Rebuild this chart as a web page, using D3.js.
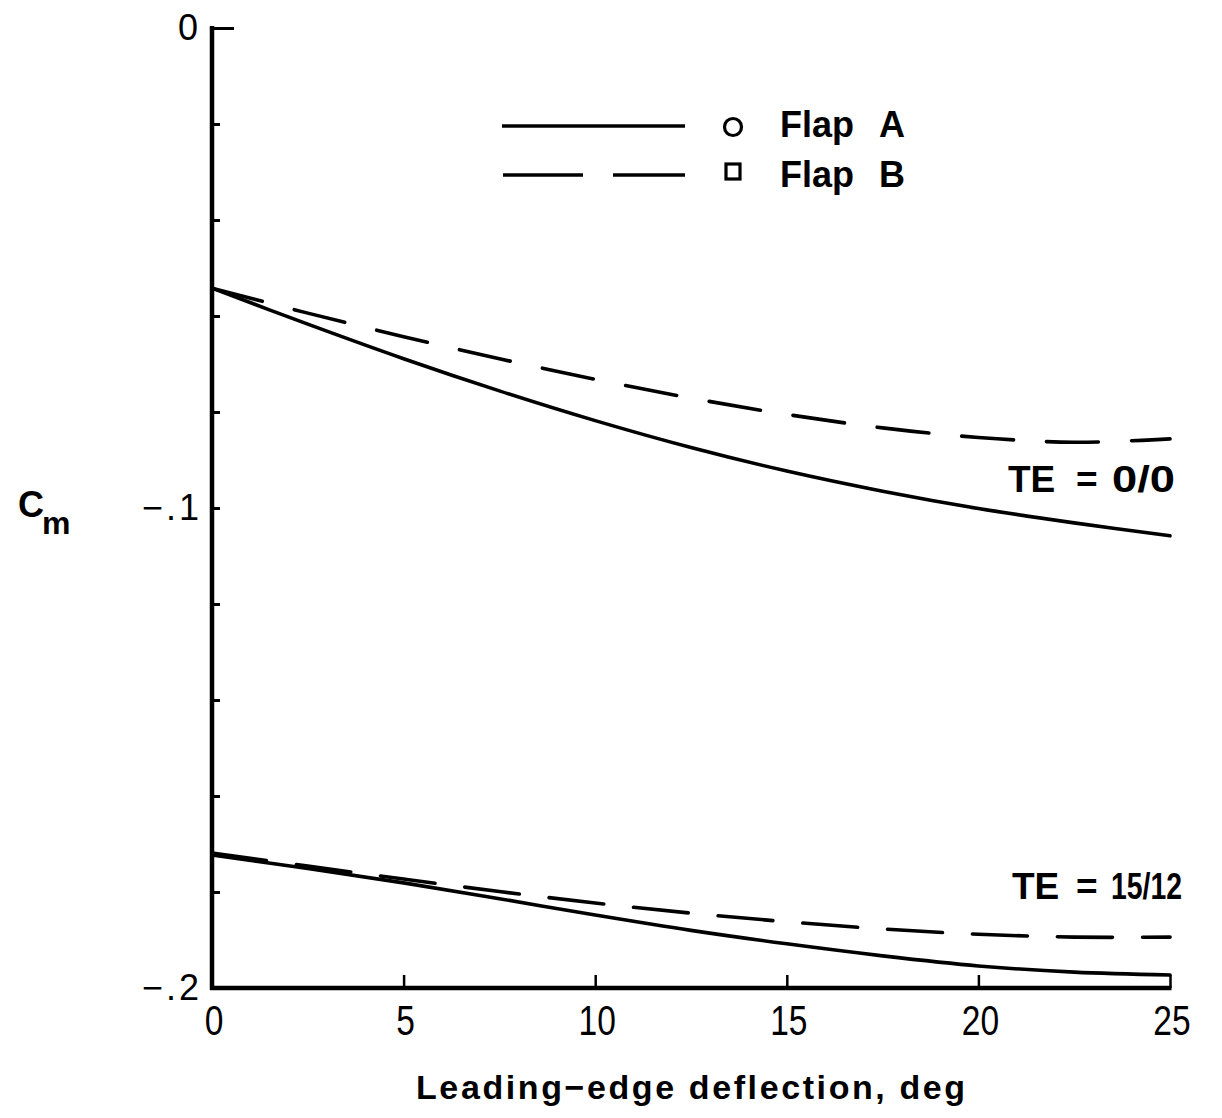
<!DOCTYPE html>
<html><head><meta charset="utf-8">
<script src="https://cdn.jsdelivr.net/npm/d3@7"></script>
<style>
body{margin:0;background:#fff;}
svg{display:block;}
text{font-family:"Liberation Sans",Arial,Helvetica,sans-serif;font-weight:bold;fill:#000;}
</style></head>
<body>
<svg id="chart" width="1222" height="1118"></svg>
<script>
// Data
const deflection = [0, 2.5, 5, 7.5, 10, 12.5, 15, 17.5, 20, 22.5, 25];
const flapA_TE0 = [-0.0542, -0.0617, -0.0689, -0.0756, -0.0818, -0.0874, -0.0923, -0.0965, -0.1001, -0.1031, -0.1058];
const flapB_TE0 = [-0.0542, -0.0594, -0.0643, -0.0689, -0.0732, -0.0771, -0.0805, -0.0833, -0.0853, -0.0863, -0.0856];
const flapA_TE15 = [-0.1723, -0.1751, -0.1781, -0.1814, -0.1848, -0.1880, -0.1908, -0.1933, -0.1954, -0.1967, -0.1973];
const flapB_TE15 = [-0.1719, -0.1746, -0.1773, -0.1799, -0.1823, -0.1844, -0.1862, -0.1877, -0.1888, -0.1894, -0.1894];
const xTicks = [0, 5, 10, 15, 20, 25];
const yTicks = [-0.2, -0.18, -0.16, -0.14, -0.12, -0.1, -0.08, -0.06, -0.04, -0.02, 0];
const yLabels = {"0": "0", "-0.1": "\u2212.1", "-0.2": "\u2212.2"};
const seriesNames = ["Flap A", "Flap B"];
const teLabels = [["TE", "=", "0/0"], ["TE", "=", "15/12"]];

const svg = d3.select("#chart");
const x = d3.scaleLinear().domain([0, 25]).range([212, 1170]);
const y = d3.scaleLinear().domain([-0.2, 0]).range([988, 28]);

// Curves
const line = d3.line().x(d => x(d[0])).y(d => y(d[1])).curve(d3.curveCatmullRom.alpha(0.5));
const curves = [
  {v: flapA_TE0, dash: null},
  {v: flapB_TE0, dash: "52,33"},
  {v: flapA_TE15, dash: null},
  {v: flapB_TE15, dash: "55,30"}
];
svg.selectAll("path.curve").data(curves).enter().append("path")
  .attr("class", "curve")
  .attr("d", c => line(deflection.map((d, i) => [d, c.v[i]])))
  .attr("fill", "none").attr("stroke", "#000").attr("stroke-width", 3.6)
  .attr("stroke-linecap", "round")
  .attr("stroke-dasharray", c => c.dash);

// X axis
const xAxis = d3.axisBottom(x).tickValues(xTicks).tickSize(-13).tickFormat("");
const gx = svg.append("g").attr("transform", `translate(0,${y(-0.2)})`).call(xAxis);
gx.select(".domain").remove();
gx.selectAll(".tick line").attr("stroke", "#000").attr("stroke-width", 2.5);
gx.selectAll(".tick").filter(d => d === 0).remove();
svg.append("line").attr("x1", x(0) - 2).attr("x2", x(25) + 1.5)
  .attr("y1", y(-0.2)).attr("y2", y(-0.2)).attr("stroke", "#000").attr("stroke-width", 4.5);
svg.selectAll("text.xl").data(xTicks).enter().append("text")
  .attr("class", "xl")
  .attr("transform", d => `translate(${x(d) + 2},1035) scale(0.78,1)`)
  .attr("text-anchor", "middle").style("font-weight", "normal").style("font-size", "43px")
  .text(d => d);

// Y axis
const yAxis = d3.axisLeft(y).tickValues(yTicks).tickSize(-8).tickFormat("");
const gy = svg.append("g").attr("transform", `translate(${x(0)},0)`).call(yAxis);
gy.select(".domain").remove();
gy.selectAll(".tick line").attr("stroke", "#000").attr("stroke-width", 3)
  .attr("x2", d => d === 0 ? 22 : 8);
svg.append("line").attr("x1", x(0)).attr("x2", x(0))
  .attr("y1", y(0) - 2).attr("y2", y(-0.2) + 2).attr("stroke", "#000").attr("stroke-width", 4.5);
svg.selectAll("text.yl").data(yTicks.filter(d => yLabels[String(+d.toFixed(2))] !== undefined))
  .enter().append("text").attr("class", "yl")
  .attr("x", d => d === 0 ? 198 : 202).attr("y", d => y(d) + 12)
  .attr("text-anchor", "end").style("font-weight", "normal").style("font-size", "36px")
  .style("letter-spacing", d => d === 0 ? "0px" : "3px")
  .text(d => yLabels[String(+d.toFixed(2))]);

// Axis titles
const cm = svg.append("text").attr("x", 18).attr("y", 517).style("font-size", "36px");
cm.append("tspan").text("C");
cm.append("tspan").attr("dy", 17).attr("dx", -2).style("font-size", "32px").text("m");

svg.append("text").attr("x", 416).attr("y", 1099)
  .style("font-size", "34px").style("letter-spacing", "2.6px")
  .text("Leading\u2212edge deflection, deg");

// TE labels
const teY = [492, 899];
const teX = [[1008, 1076, 1112], [1012, 1076, 1111]];
const teNumW = [63, 71];
teLabels.forEach((parts, k) => {
  const t = svg.append("text").attr("y", teY[k]).style("font-size", "37px");
  parts.forEach((p, j) => {
    const s = t.append("tspan").attr("x", teX[k][j]).text(p);
    if (j === 2) s.attr("textLength", teNumW[k]).attr("lengthAdjust", "spacingAndGlyphs");
  });
});

// Legend
const leg = svg.append("g");
leg.append("line").attr("x1", 502).attr("x2", 685).attr("y1", 126).attr("y2", 126)
  .attr("stroke", "#000").attr("stroke-width", 3.4);
leg.append("line").attr("x1", 503).attr("x2", 685).attr("y1", 175).attr("y2", 175)
  .attr("stroke", "#000").attr("stroke-width", 3.4).attr("stroke-dasharray", "80,30");
leg.append("circle").attr("cx", 733).attr("cy", 127).attr("r", 8.5)
  .attr("fill", "none").attr("stroke", "#000").attr("stroke-width", 3.2);
leg.append("rect").attr("x", 726).attr("y", 164).attr("width", 14).attr("height", 15)
  .attr("fill", "none").attr("stroke", "#000").attr("stroke-width", 3.2);
seriesNames.forEach((name, k) => {
  const [w1, w2] = name.split(" ");
  const t = leg.append("text").attr("y", 137 + k * 50).style("font-size", "36px");
  t.append("tspan").attr("x", 780).text(w1);
  t.append("tspan").attr("x", 879).text(w2);
});
</script>
</body></html>
